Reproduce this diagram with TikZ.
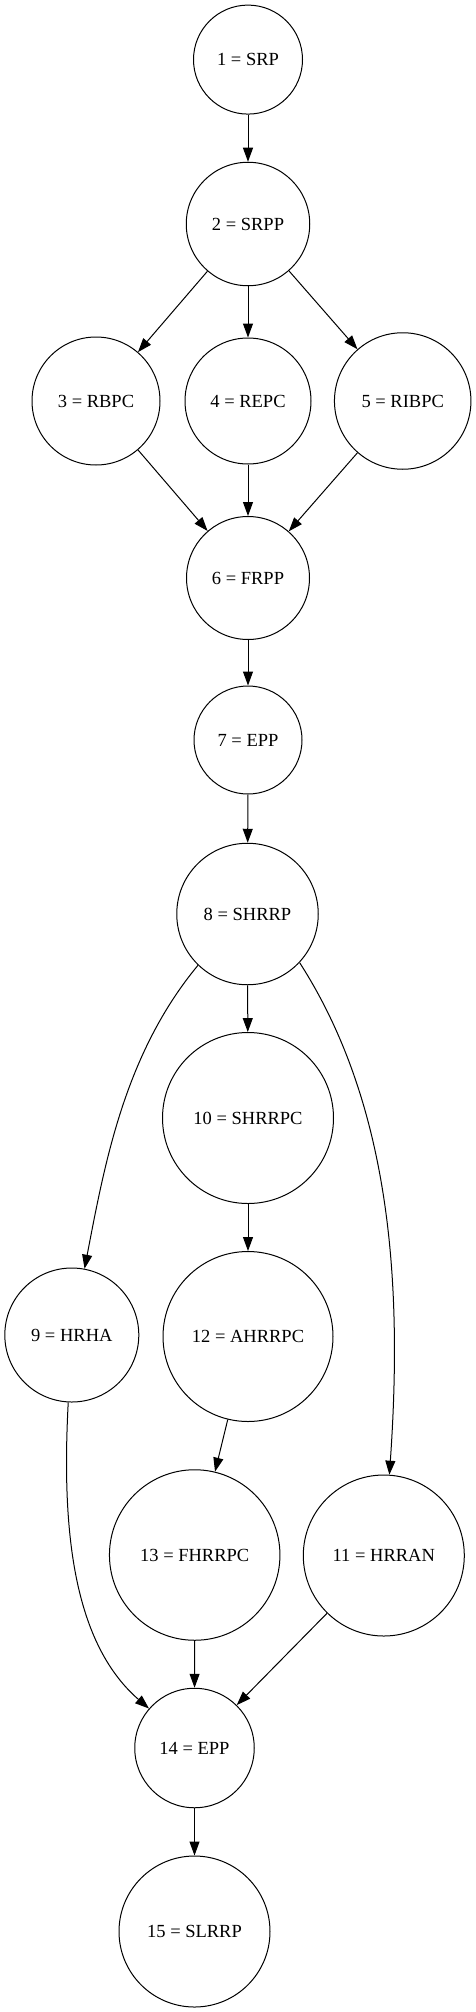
\documentclass[tikz,border=0pt]{standalone}
\usepackage{fontspec}
\setmainfont{Liberation Serif}
\usetikzlibrary{arrows.meta,shapes}

\begin{document}
\begin{tikzpicture}[x=1pt,y=-1pt]
		\tikzset{vertex/.style = {shape=circle,draw,line width=1pt,inner sep=0pt,font=\fontsize{18.5}{22}\selectfont}}
		\tikzset{edge/.style = {->,line width=1pt,> = {Triangle[length=14pt,width=10pt]}}}
		
		\useasboundingbox (0,0) rectangle (476,2012);
		
		\node[vertex,minimum size=109pt] (n1) at (248,59.6) {1 = SRP};
		\node[vertex,minimum size=123.5pt] (n2) at (248,224) {2 = SRPP};
		\node[vertex,minimum size=128pt] (n3) at (96,401) {3 = RBPC};
		\node[vertex,minimum size=126pt] (n4) at (248,401) {4 = REPC};
		\node[vertex,minimum size=136.5pt] (n5) at (402.7,401) {5 = RIBPC};
		\node[vertex,minimum size=123pt] (n6) at (248,578) {6 = FRPP};
		\node[vertex,minimum size=108pt] (n7) at (248,740) {7 = EPP};
		\node[vertex,minimum size=141.5pt] (n8) at (247.5,914) {8 = SHRRP};
		\node[vertex,minimum size=134pt] (n9) at (71.8,1335) {9 = HRHA};
		\node[vertex,minimum size=171pt] (n10) at (248,1118) {10 = SHRRPC};
		\node[vertex,minimum size=161pt] (n11) at (383.8,1555.5) {11 = HRRAN};
		\node[vertex,minimum size=170pt] (n12) at (248,1336.5) {12 = AHRRPC};
		\node[vertex,minimum size=170.5pt] (n13) at (194.7,1555) {13 = FHRRPC};
		\node[vertex,minimum size=119.5pt] (n14) at (194.5,1748) {14 = EPP};
		\node[vertex,minimum size=151pt] (n15) at (194.5,1931.5) {15 = SLRRP};
		
		\draw[edge] (n1) to (n2);
		\draw[edge] (n2) to (n3);
		\draw[edge] (n2) to (n4);
		\draw[edge] (n2) to (n5);
		\draw[edge] (n3) to (n6);
		\draw[edge] (n4) to (n6);
		\draw[edge] (n5) to (n6);
		\draw[edge] (n6) to (n7);
		\draw[edge] (n7) to (n8);
		\draw[edge] (n8.-134) .. controls (124.8,1053.5) and (105,1162) .. (n9);
		\draw[edge] (n8) to (n10);
		\draw[edge] (n8.-43) .. controls (395.6,1111.9) and (401.5,1299.6) .. (n11);
		\draw[edge] (n10) to (n12);
		\draw[edge] (n12) to (n13);
		\draw[edge] (n9) .. controls (62,1520) and (70,1640) .. (n14);
		\draw[edge] (n13) to (n14);
		\draw[edge] (n11) to (n14);
		\draw[edge] (n14) to (n15);
		\end{tikzpicture}
\end{document}
